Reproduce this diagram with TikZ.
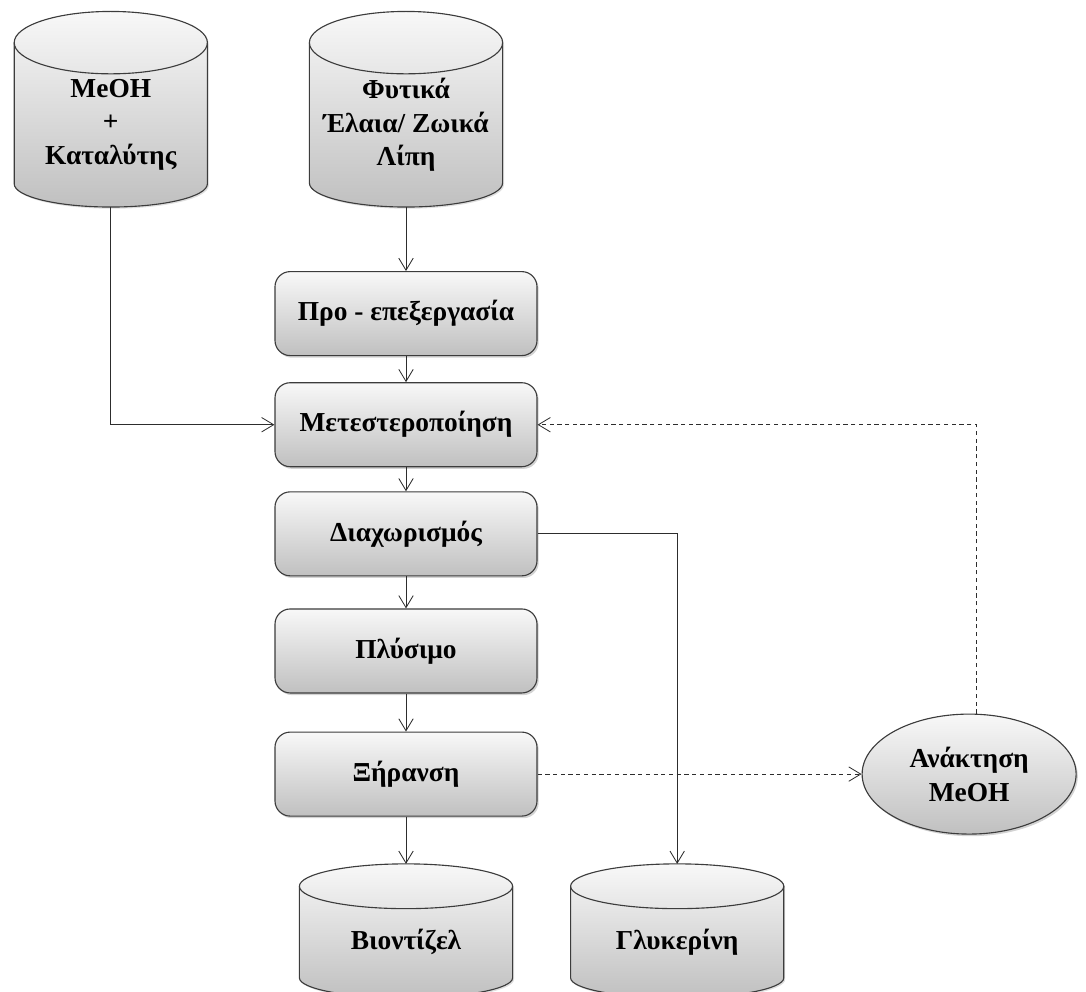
\documentclass[tikz,border=0pt]{standalone}
\usepackage{fontspec}
\setmainfont{Liberation Serif}
\usepackage{tikz}
\usetikzlibrary{shapes.geometric, arrows.meta, positioning, shadows, backgrounds}
\definecolor{boxtop}{RGB}{248, 248, 248}
\definecolor{boxbottom}{RGB}{192, 192, 192}
\definecolor{boxborder}{RGB}{60, 60, 60}
\definecolor{linecolor}{RGB}{45, 45, 45}
\tikzstyle{process} = [rectangle, rounded corners=0.38cm, minimum width=6.55cm, minimum height=2.1cm,
                       text centered, draw=boxborder, line width=0.8pt, top color=boxtop, bottom color=boxbottom,
                       drop shadow={opacity=0.35, shadow xshift=1.2pt, shadow yshift=-1.5pt},
                       font=\fontsize{19.5}{24}\selectfont\bfseries]
\tikzstyle{tank} = [rectangle, inner sep=0pt, outer sep=0pt, align=center,
                    font=\fontsize{19.5}{24}\selectfont\bfseries]
\tikzstyle{tankbody} = [draw=boxborder, line width=0.8pt, top color=boxtop, bottom color=boxbottom,
                        drop shadow={opacity=0.25, shadow xshift=1pt, shadow yshift=-1.2pt}]
\tikzstyle{tankline} = [draw=boxborder, line width=0.8pt]
\tikzstyle{recover} = [ellipse, minimum width=5.35cm, minimum height=3cm, align=center, draw=boxborder,
                       line width=0.8pt, top color=boxtop, bottom color=boxbottom,
                       drop shadow={opacity=0.35, shadow xshift=1.2pt, shadow yshift=-1.5pt},
                       font=\fontsize{19.5}{24}\selectfont\bfseries]
\tikzstyle{arrow} = [-{Straight Barb[length=3mm, width=3.6mm]}, line width=0.6pt, draw=linecolor]
\tikzstyle{dasharrow} = [arrow, dash pattern=on 3pt off 2.5pt]

\begin{document}
\begin{tikzpicture}[node distance=0.65cm and 2cm]
    \useasboundingbox (0,0) rectangle (27.15,-24.8);
    % Process steps
    \node[process] (pretreat) at (10.15,-7.84) {Προ - επεξεργασία};
    \node[process, below=0.65cm of pretreat] (transest) {Μετεστεροποίηση};
    \node[process, below=0.6cm of transest] (separation) {Διαχωρισμός};
    \node[process, below=0.8cm of separation] (washing) {Πλύσιμο};
    \node[process, below=0.95cm of washing] (drying) {Ξήρανση};

    % Storage tanks (body only, the cap is drawn below)
    \node[tank, minimum width=4.83cm, minimum height=4.11cm, above=1.6cm of pretreat] (oils) {Φυτικά\\Έλαια/ Ζωικά\\Λίπη};
    \node[tank, minimum width=4.83cm, minimum height=4.11cm, left=2.55cm of oils] (methanol) {MeOH\\+\\Καταλύτης};
    \node[tank, minimum width=5.33cm, minimum height=2.79cm, below=1.74cm of drying] (biodiesel) {Βιοντίζελ};
    \node[tank, minimum width=5.33cm, minimum height=2.79cm, right=1.45cm of biodiesel] (glycerin) {Γλυκερίνη};

    % Methanol recovery
    \node[recover, right=8.1cm of drying] (recovery) {Ανάκτηση\\MeOH};

    % Tank outlines
    \begin{scope}[on background layer]
        \foreach \tk/\rx/\rtop/\rbot in {methanol/2.415/0.78/0.58, oils/2.415/0.78/0.6,
                                        biodiesel/2.665/0.56/0.5, glycerin/2.665/0.56/0.5} {
            \path[tankbody] (\tk.north west) -- ([yshift=\rbot cm]\tk.south west)
                arc[start angle=180, end angle=360, x radius=\rx cm, y radius=\rbot cm]
                -- (\tk.north east)
                arc[start angle=0, end angle=180, x radius=\rx cm, y radius=\rtop cm] -- cycle;
            \draw[tankline] (\tk.north west) arc[start angle=180, end angle=360, x radius=\rx cm, y radius=\rtop cm];
        }
    \end{scope}

    % Flow
    \draw[arrow] (oils) -- (pretreat);
    \draw[arrow] (pretreat) -- (transest);
    \draw[arrow] (methanol.south) |- (transest.west);
    \draw[arrow] (transest) -- (separation);
    \draw[arrow] (separation) -- (washing);
    \draw[arrow] (washing) -- (drying);
    \draw[arrow] (drying) -- ([yshift=0.56cm]biodiesel.north);
    \draw[arrow] (separation.east) -| ([yshift=0.56cm]glycerin.north);
    \draw[dasharrow] (drying.east) -- (recovery.west);
    \draw[dasharrow] ([xshift=0.18cm]recovery.north) |- (transest.east);
\end{tikzpicture}
\end{document}
